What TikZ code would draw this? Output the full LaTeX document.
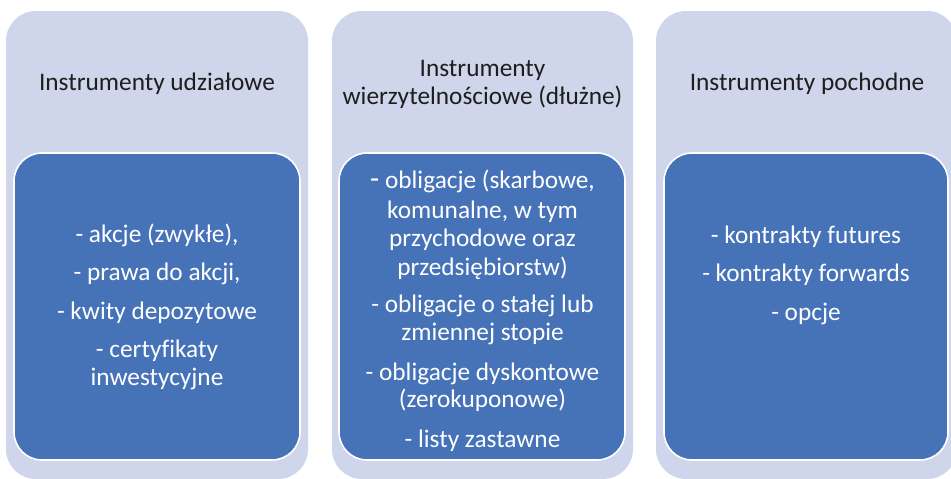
\documentclass[tikz,border=0pt]{standalone}
\usepackage{fontspec}
\setmainfont{Carlito}[Ligatures=NoCommon]
\definecolor{panel}{HTML}{CFD5EA}
\definecolor{card}{HTML}{4672B8}
\definecolor{headtxt}{HTML}{1E1E1E}
\begin{document}
\begin{tikzpicture}[x=1pt,y=-1pt,
  panelbox/.style={fill=panel, rounded corners=30pt, inner sep=0pt},
  cardbox/.style={fill=card, draw=white, line width=1.6pt, rounded corners=28pt, inner sep=0pt},
  headline/.style={anchor=base, font=\fontsize{25.3}{30}\selectfont, text=headtxt, inner sep=0pt},
  bodyline/.style={anchor=base, font=\fontsize{25.3}{30}\selectfont, text=white, inner sep=0pt}]
\useasboundingbox (0,0) rectangle (951,479);
\fill[white] (0,0) rectangle (951,479);

% three columns: light panel with a blue card inside
\path[panelbox] (6,11) rectangle (308,479);
\path[panelbox] (332,11) rectangle (633,479);
\path[panelbox] (656,11) rectangle (957,479);
\path[cardbox] (14,153) rectangle (300,460);
\path[cardbox] (339,153) rectangle (625,460);
\path[cardbox] (664,153) rectangle (948,460);

% headings
\node[headline] (h1) at (157,90) {Instrumenty udziałowe};
\node[headline] (h2a) at (482.5,76) {Instrumenty};
\node[headline] (h2b) at (482.5,104) {wierzytelnościowe (dłużne)};
\node[headline] (h3) at (807,90) {Instrumenty pochodne};

% equity instruments
\node[bodyline] (a1) at (157,242) {- akcje (zwykłe),};
\node[bodyline] (a2) at (157,280) {- prawa do akcji,};
\node[bodyline] (a3) at (157,319) {- kwity depozytowe};
\node[bodyline] (a4) at (157,357) {- certyfikaty};
\node[bodyline] (a5) at (157,385) {inwestycyjne};

% debt instruments
\node[bodyline] (b1) at (482.5,188) {{\fontsize{30}{30}\selectfont -} obligacje (skarbowe,};
\node[bodyline] (b2) at (482.5,218) {komunalne, w tym};
\node[bodyline] (b3) at (482.5,246) {przychodowe oraz};
\node[bodyline] (b4) at (482.5,275) {przedsiębiorstw)};
\node[bodyline] (b5) at (482.5,312) {- obligacje o stałej lub};
\node[bodyline] (b6) at (482.5,340) {zmiennej stopie};
\node[bodyline] (b7) at (482.5,380) {- obligacje dyskontowe};
\node[bodyline] (b8) at (482.5,407) {(zerokuponowe)};
\node[bodyline] (b9) at (482.5,447) {- listy zastawne};

% derivatives
\node[bodyline] (c1) at (806,243) {- kontrakty futures};
\node[bodyline] (c2) at (806,281) {- kontrakty forwards};
\node[bodyline] (c3) at (806,320) {- opcje};
\end{tikzpicture}
\end{document}
